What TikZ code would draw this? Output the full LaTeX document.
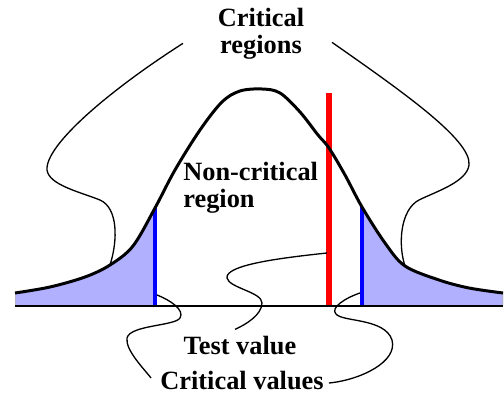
\documentclass[tikz,border=0pt]{standalone}
\usepackage{fontspec}
\setmainfont{Liberation Serif}
\usetikzlibrary{calc}
\definecolor{tailBlue}{HTML}{B0B0FF}
\definecolor{critBlue}{HTML}{0000FF}
\definecolor{testRed}{HTML}{FF0000}
\newcommand\bellcurve{plot[smooth,tension=0.55] coordinates {(15,293) (50,287) (85,277) (110,265) (133,246) (155,208) (175,170) (200,130) (222,102) (240,91) (262,89) (280,93) (300,112) (318,135) (329,148) (345,175) (362,207) (385,243) (405,266) (439,280) (469,288) (503,293)}}

\begin{document}
\begin{tikzpicture}[x=0.02cm,y=-0.02cm,
  bell/.style={line width=1.7pt,line join=round},
  axisline/.style={line width=1.5pt},
  tail/.style={fill=tailBlue,draw=gray!60,line width=0.6pt},
  critline/.style={critBlue,line width=2.5pt},
  testline/.style={testRed,line width=2.9pt},
  leader/.style={line width=0.75pt},
  lbl/.style={font=\bfseries\fontsize{15}{15.2}\selectfont,inner sep=0pt}]
\useasboundingbox (0,0) rectangle (504,398);
% shaded tails
\begin{scope}
  \clip (15,0) rectangle (155,306) (362,0) rectangle (503,306);
  \filldraw[tail] \bellcurve -- (503,306) -- (15,306) -- cycle;
\end{scope}
\coordinate (lcTop) at (155,208);
\coordinate (lcBot) at (155,306);
\coordinate (rcTop) at (362,207);
\coordinate (rcBot) at (362,306);
\coordinate (tvTop) at (329,93);
\coordinate (tvBot) at (329,306);
\coordinate (axL) at (15,306);
\coordinate (axR) at (503,306);
\draw[critline] (lcTop) -- (lcBot);
\draw[critline] (rcTop) -- (rcBot);
\draw[testline] (tvTop) -- (tvBot);
\draw[bell] \bellcurve;
\draw[axisline] (axL) -- (axR);
% labels
\node[lbl,align=center,anchor=north] (crit) at (261,8) {Critical\\regions};
\node[lbl,align=left,anchor=north west] (noncrit) at (183,162) {Non-critical\\region};
\node[lbl,anchor=base] (test) at (240,355) {Test value};
\node[lbl,anchor=base] (cv) at (242,390) {Critical values};
% leader hooks
\coordinate (ltHook) at (110,265);
\coordinate (rtHook) at (405,266);
\coordinate (tvHook) at (327,253);
\coordinate (lcHook) at (157,295);
\coordinate (rcHook) at (360,293);
\draw[leader] ($(crit.west)+(-34.5,9.6)$) .. controls (110,90) and (45,145) .. (47,170)
  .. controls (49,185) and (80,192) .. (100,200) .. controls (118,208) and (118,240) .. (ltHook);
\draw[leader] ($(crit.east)+(27.5,8.6)$) .. controls (400,90) and (472,140) .. (469,165)
  .. controls (467,182) and (435,192) .. (419,200) .. controls (400,210) and (398,245) .. (rtHook);
\draw[leader] (tvHook) .. controls (280,258) and (225,265) .. (227,278)
  .. controls (229,288) and (262,292) .. (262,303) .. controls (262,315) and (245,325) .. ($(test.north)+(-5,-7)$);
\draw[leader] (lcHook) .. controls (170,300) and (185,310) .. (180,318)
  .. controls (175,326) and (130,325) .. (127,338) .. controls (125,350) and (145,370) .. ($(cv.west)+(-9,-3)$);
\draw[leader] (rcHook) .. controls (345,298) and (330,308) .. (336,314)
  .. controls (342,322) and (385,318) .. (392,340) .. controls (398,362) and (360,380) .. ($(cv.east)+(5,2)$);
\end{tikzpicture}
\end{document}
